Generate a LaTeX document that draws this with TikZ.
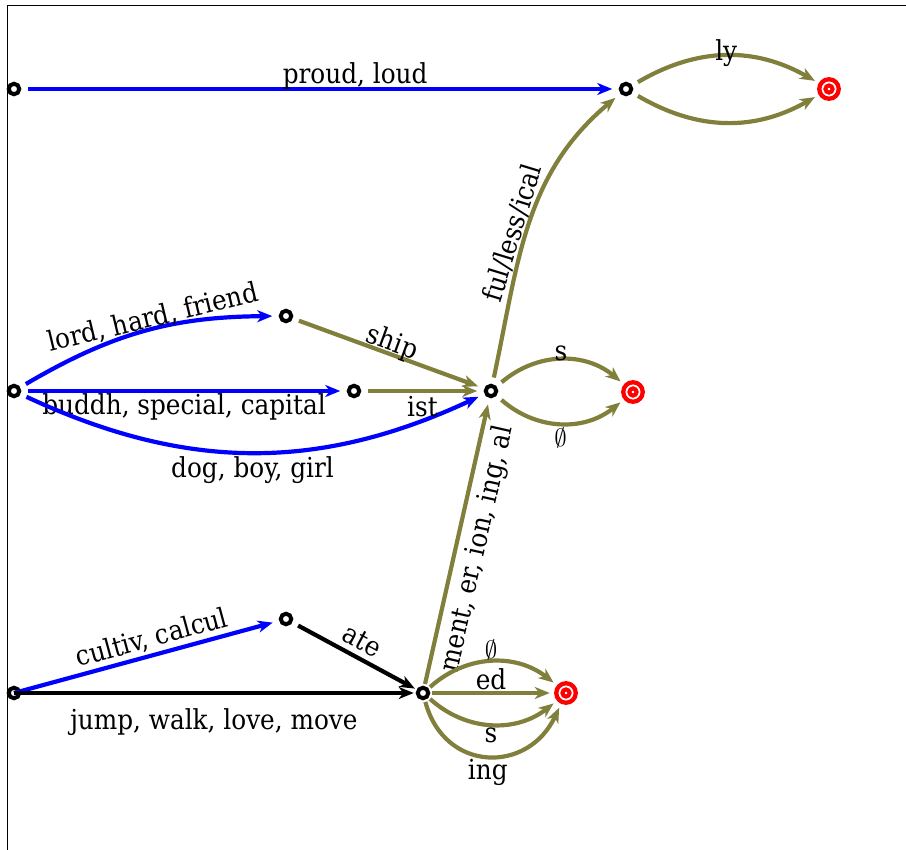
\documentclass[tikz,border=0pt]{standalone}
\usepackage{fontspec}
\setmainfont{DejaVu Serif Condensed}
\usetikzlibrary{arrows.meta}
\definecolor{olivearc}{RGB}{128,128,60}
\newcommand\lblfont{\fontsize{27.5}{32}\selectfont}
\begin{document}
\begin{tikzpicture}[x=1pt,y=1pt,
  state/.style={circle, draw=black, fill=white, line width=4pt, minimum size=10.5pt,
    inner sep=0pt, outer sep=8.5pt},
  accept/.style={circle, draw=red, fill=white, line width=4.3pt, minimum size=19.5pt,
    inner sep=0pt, outer sep=6.5pt,
    path picture={\draw[red, line width=4pt]
      (path picture bounding box.center) circle[radius=3.6pt];}},
  arc/.style={line width=4.2pt, -{Stealth[length=15pt,width=12pt,inset=4.5pt]}},
  bluearc/.style={arc, draw=blue},
  olive/.style={arc, draw=olivearc},
  blackarc/.style={arc, draw=black},
  lab/.style={font=\lblfont, text=black, inner sep=2pt, text depth=0pt},
]
\useasboundingbox (0,0) rectangle (906,-850);
% frame
\draw[line width=1pt] (7,-850) -- (7,-6) -- (906,-6);

% states
\node[state]  (A0) at (14,-89)  {};
\node[state]  (A1) at (626,-89) {};
\node[accept] (A2) at (829,-89) {};

\node[state]  (B0) at (14,-391)  {};
\node[state]  (B1) at (286,-316) {};
\node[state]  (B2) at (354,-391) {};
\node[state]  (B3) at (491,-391) {};
\node[accept] (B4) at (633,-392) {};

\node[state]  (C0) at (14,-693)  {};
\node[state]  (C1) at (286,-619) {};
\node[state, outer sep=4pt] (C2) at (423,-693) {};
\node[accept] (C3) at (566,-693) {};

% top row
\draw[bluearc] (A0) -- node[lab, above, pos=0.56, inner sep=3pt] {proud, loud} (A1);
\draw[olive] (A1) to[bend left=30] node[lab, above, inner sep=0pt, yshift=-7pt] {ly} (A2);
\draw[olive] (A1) to[bend right=30] (A2);

% middle row
\draw[bluearc] (B0) to[bend left=15] node[lab, above, sloped, pos=0.55, inner sep=0pt] {lord, hard, friend} (B1);
\draw[bluearc] (B0) -- node[lab, below, inner sep=1pt] {buddh, special, capital} (B2);
\draw[bluearc] (B0) to[bend right=25] node[lab, below] {dog, boy, girl} (B3);
\draw[olive] (B1) -- node[lab, above, sloped, inner sep=1pt] {ship} (B3);
\draw[olive] (B2) -- node[lab, below, inner sep=3pt] {ist} (B3);
\draw[olive] (B3) to[bend left=40] node[lab, above, inner sep=0pt, yshift=-3pt] {s} (B4);
\draw[olive] (B3) to[bend right=40] node[lab, below] {$\emptyset$} (B4);
\draw[olive] (B3) to[out=78, in=-140] node[lab, above, sloped, pos=0.45] {ful/less/ical} (A1);

% bottom row
\draw[bluearc] (C0.center) -- node[lab, above, sloped, pos=0.55, inner sep=6pt] {cultiv, calcul} (C1);
\draw[blackarc] (C0.center) -- node[lab, below, inner sep=14pt] {jump, walk, love, move} (C2);
\draw[blackarc] (C1) -- node[lab, above, sloped, inner sep=6pt, pos=0.48] {ate} (C2);
\draw[olive] (C2) -- node[lab, below, sloped, inner sep=6pt] {ment, er, ion, ing, al} (B3);
\draw[olive] (C2) to[bend left=40] node[lab, above, inner sep=1pt] {$\emptyset$} (C3);
\draw[olive] (C2) -- node[lab, above, inner sep=1pt] {ed} (C3);
\draw[olive] (C2) to[bend right=40] node[lab, below, inner sep=1pt] {s} (C3);
\draw[olive] (C2) to[out=-75, in=-115, looseness=1.4] node[lab, below, inner sep=1pt] {ing} (C3);
\end{tikzpicture}
\end{document}
